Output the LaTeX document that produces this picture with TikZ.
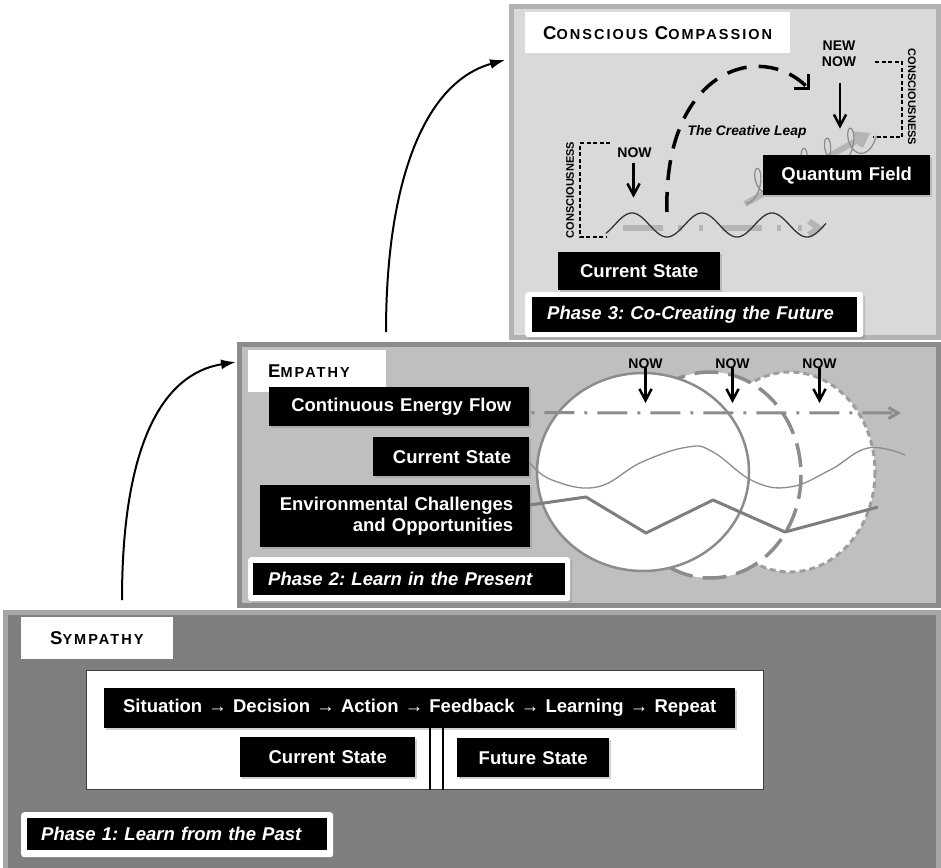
\documentclass[tikz,border=0pt]{standalone}
\usepackage{fontspec}
\setmainfont{Liberation Sans}
\newfontfamily\headfont[LetterSpace=14]{Liberation Sans}
\usetikzlibrary{arrows.meta,shadows}

\definecolor{pthree}{HTML}{D9D9D9}
\definecolor{pthreeedge}{HTML}{B2B2B2}
\definecolor{ptwo}{HTML}{BFBFBF}
\definecolor{ptwoedge}{HTML}{8C8C8C}
\definecolor{pone}{HTML}{7F7F7F}
\definecolor{poneedge}{HTML}{A6A6A6}
\definecolor{linegray}{HTML}{8C8C8C}
\definecolor{lightline}{HTML}{B5B5B5}
\definecolor{coilgray}{HTML}{8A8A8A}
\definecolor{edgedark}{HTML}{404040}

\newcommand\boxfont{\bfseries\fontsize{18.5}{21}\selectfont}
\newcommand\phasefont{\bfseries\itshape\fontsize{18.5}{21}\selectfont}
\newcommand\fakesc[2]{{\fontsize{18.5}{20}\selectfont#1}{\fontsize{14.5}{16}\selectfont#2}}

\begin{document}
\frenchspacing
\begin{tikzpicture}[x=1pt,y=-1pt,
  panel/.style={line width=5pt, anchor=north west, inner sep=0pt, outer sep=0pt},
  headlbl/.style={fill=white, anchor=north west, inner ysep=0pt, align=left,
    font=\headfont\bfseries\fontsize{14.5}{16}\selectfont},
  blk/.style={fill=black, text=white, font=\boxfont, inner ysep=0pt,
    anchor=north west,
    drop shadow={shadow xshift=2pt, shadow yshift=-2pt, opacity=0.35}},
  phaseout/.style={fill=white, rounded corners=3pt, anchor=north west,
    inner sep=0pt,
    drop shadow={shadow xshift=2pt, shadow yshift=-2pt, opacity=0.3}},
  phaseblk/.style={fill=black, text=white, font=\phasefont, anchor=north west,
    inner ysep=0pt, align=left},
  nowlbl/.style={font=\bfseries\fontsize{14}{16}\selectfont, inner sep=0pt},
  nowarrow/.style={line width=2.5pt, -{Straight Barb[angle=56:13pt]}},
  bigarrow/.style={line width=2pt, -{Latex[length=15pt, width=10pt]}},
  bracket/.style={line width=1.4pt, dash pattern=on 4pt off 2.5pt},
  vlabel/.style={font=\bfseries\fontsize{11}{12}\selectfont, inner sep=0pt},
]
\useasboundingbox (0,0) rectangle (941,867);
\fill[white] (0,0) rectangle (941,867);

% ---------- three stacked panels ----------
\node[panel, draw=pthreeedge, fill=pthree, minimum width=427pt, minimum height=331pt]
  (p3) at (511.5,6.5) {};
\node[panel, draw=ptwoedge, fill=ptwo, minimum width=699pt, minimum height=261pt]
  (p2) at (239.5,344.5) {};
\node[panel, draw=poneedge, fill=pone, minimum width=933pt, minimum height=262pt]
  (p1) at (5.5,612.5) {};

% ---------- rising arrows between panels ----------
\coordinate (a1s) at (122,600);
\coordinate (a1e) at (236,362);
\coordinate (a2s) at (386,332);
\coordinate (a2e) at (505,60);
\draw[bigarrow] (a1s) .. controls (122,450) and (160,374) .. (a1e);
\draw[bigarrow] (a2s) .. controls (386,180) and (425,82) .. (a2e);

% ================= Phase 3 =================
\node[headlbl, minimum width=265pt, minimum height=41pt, inner xsep=18pt, text width=229pt]
  (cclbl) at (525,12) {\fakesc{C}{ONSCIOUS}\hspace{2pt} \fakesc{C}{OMPASSION}};

% quantum coil and its faint direction arrow
\draw[lightline, line width=6pt, -{Straight Barb[angle=70:12pt]}] (745,204) -- (870,133);
\draw[coilgray, line width=1.2pt]
  plot[domain=-90:1800, samples=320, variable=\t]
  ({752 + 3.7*\t/57.2958 + 8*cos(\t)}, {186 - 1.6*\t/57.2958 - 15*sin(\t)});

% consciousness wave of the current state
\draw[lightline, line width=6pt,
  dash pattern=on 40pt off 15pt on 4pt off 17pt on 4pt off 19pt,
  -{Straight Barb[angle=70:12pt]}] (623,228) -- (824,228);
\draw[black!80, line width=1.3pt]
  plot[domain=606:826, samples=140] (\x, {225 + 12*cos((\x-667)*5.142857)});

% the creative leap
\draw[line width=3.5pt, dash pattern=on 20pt off 12pt,
  -{Straight Barb[angle=90:14pt]}]
  (667,212) .. controls (663,70) and (760,40) .. (810,90);
\node[font=\bfseries\itshape\fontsize{13.8}{16}\selectfont, inner sep=0pt]
  (leap) at (747,132) {The Creative Leap};

% NOW (current) with consciousness bracket
\node[nowlbl] (now0) at (634.5,152.5) {NOW};
\draw[nowarrow] (now0.south) ++(-1,5) -- ++(0,35);
\draw[bracket] (610,143) -- (580,143) -- (580,237) -- (606,237);
\node[vlabel, rotate=90] (consl) at (570,190) {CONSCIOUSNESS};

% NEW NOW with consciousness bracket
\node[nowlbl, align=center] (newnow) at (839,53.5) {NEW\\NOW};
\draw[nowarrow] (newnow.south) ++(1,16) -- ++(0,46);
\draw[bracket] (875,62) -- (902,62) -- (902,137) -- (873,137);
\node[vlabel, rotate=-90] (consr) at (912,97) {CONSCIOUSNESS};

\node[blk, minimum width=167pt, minimum height=40pt, inner xsep=0pt,
  text width=167pt, align=center] (qf) at (763,155) {Quantum Field};
\node[blk, minimum width=162pt, minimum height=38pt, inner xsep=0pt,
  text width=162pt, align=center] (cs3) at (558,252) {Current State};

\node[phaseout, minimum width=338pt, minimum height=45pt] (ph3o) at (525,292) {};
\node[phaseblk, minimum width=325pt, minimum height=35pt, inner xsep=15pt,
  text width=295pt] (ph3) at (532,297) {Phase 3: Co-Creating the Future};

% ================= Phase 2 =================
\node[headlbl, minimum width=138pt, minimum height=42pt, inner xsep=20pt, text width=98pt]
  (emlbl) at (248,350) {\fakesc{E}{MPATHY}};

% overlapping moments
\draw[fill=white, draw=linegray!85, line width=3pt, dash pattern=on 6pt off 4pt]
  (790,472) ellipse [x radius=85, y radius=100];
\draw[fill=white, draw=linegray, line width=3.5pt, dash pattern=on 24pt off 10pt]
  (710,475) ellipse [x radius=91, y radius=103];
\draw[fill=white, draw=linegray, line width=2.5pt]
  (643,472) ellipse [x radius=106, y radius=99];

\node[blk, minimum width=260pt, minimum height=39pt, inner xsep=18pt,
  text width=224pt, align=right] (cef) at (269,387) {Continuous Energy Flow};
\node[blk, minimum width=156pt, minimum height=39pt, inner xsep=18pt,
  text width=120pt, align=right] (cs2) at (373,437) {Current State};
\node[blk, minimum width=270pt, minimum height=62pt, inner xsep=17pt,
  text width=236pt, align=right] (env) at (260,485)
  {Environmental Challenges\\and Opportunities};

% flow, state and environment traces
\draw[linegray, line width=3pt, dash pattern=on 30pt off 10pt on 3pt off 10pt,
  dash phase=40pt, -{Straight Barb[angle=60:11pt]}]
  (cef.east) ++(2,6) -- (901,413);
\draw[linegray, line width=1.3pt] plot[smooth, tension=0.7] coordinates
  {(530,463) (552,480) (597,487) (642,462) (688,447) (713,452) (753,481)
   (790,487) (830,470) (868,448) (905,455)};
\draw[linegray!90!black, line width=3pt, line join=round]
  (530,505) -- (586,497) -- (646,533) -- (713,500) -- (785,532) -- (878,507);

\node[nowlbl] (now1) at (645.5,364) {NOW};
\node[nowlbl] (now2) at (732.5,364) {NOW};
\node[nowlbl] (now3) at (819.5,364) {NOW};
\draw[nowarrow] ([yshift=-3pt]now1.center) -- ++(0,36);
\draw[nowarrow] ([yshift=-3pt]now2.center) -- ++(0,36);
\draw[nowarrow] ([yshift=-3pt]now3.center) -- ++(0,36);

\node[phaseout, minimum width=322pt, minimum height=44pt] (ph2o) at (248,557) {};
\node[phaseblk, minimum width=312pt, minimum height=32pt, inner xsep=15pt,
  text width=282pt] (ph2) at (253,563) {Phase 2: Learn in the Present};

% ================= Phase 1 =================
\node[headlbl, minimum width=152pt, minimum height=42pt, inner xsep=29pt, text width=94pt]
  (symlbl) at (21,617) {\fakesc{S}{YMPATHY}};

\node[draw=edgedark, fill=white, line width=1pt, anchor=north west, inner sep=0pt,
  minimum width=677pt, minimum height=119pt] (loop) at (86,670) {};
\node[blk, minimum width=631pt, minimum height=40pt, inner xsep=0pt,
  text width=631pt, align=center] (sit) at (104,688)
  {Situation → Decision → Action → Feedback → Learning → Repeat};
\node[blk, minimum width=175pt, minimum height=40pt, inner xsep=0pt,
  text width=175pt, align=center] (cs1) at (240,737) {Current State};
\node[blk, minimum width=152pt, minimum height=39pt, inner xsep=0pt,
  text width=152pt, align=center] (fs1) at (457,738) {Future State};
\draw[line width=2.5pt] ([xshift=10.5pt]sit.south) -- ([xshift=10.5pt]sit.south |- loop.south);
\draw[line width=2.5pt] ([xshift=23.5pt]sit.south) -- ([xshift=23.5pt]sit.south |- loop.south);

\node[phaseout, minimum width=312pt, minimum height=45pt] (ph1o) at (21,812) {};
\node[phaseblk, minimum width=300pt, minimum height=32pt, inner xsep=14pt,
  text width=272pt] (ph1) at (27,818) {Phase 1: Learn from the Past};
\end{tikzpicture}
\end{document}
